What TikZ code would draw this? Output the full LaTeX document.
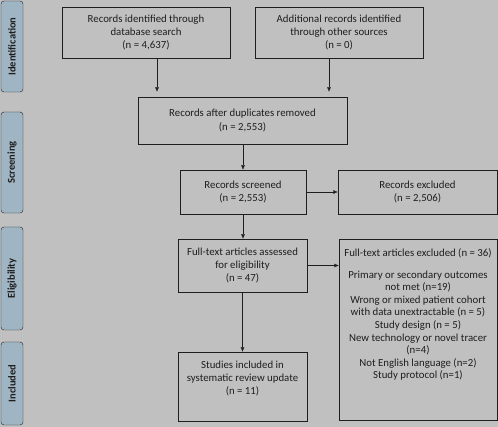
\documentclass[tikz,border=0pt]{standalone}
\usepackage{fontspec}
\setmainfont{Carlito}
\usetikzlibrary{arrows.meta}
\definecolor{bggrey}{RGB}{192,192,192}
\definecolor{tabblue}{RGB}{160,181,196}
\definecolor{inkgrey}{RGB}{30,30,30}
\begin{document}
\begin{tikzpicture}[x=1pt,y=-1pt,
    box/.style={draw=inkgrey, fill=bggrey, align=center, inner sep=1pt, text=inkgrey, font=\fontsize{10.8}{13.3}\selectfont},
    txt/.style={align=center, inner sep=0pt, text=inkgrey, font=\fontsize{10.8}{12.6}\selectfont},
    tab/.style={draw=inkgrey, fill=tabblue, rounded corners=3pt, rotate=90, minimum height=22pt, inner sep=1pt, text=inkgrey, font=\bfseries\fontsize{10.5}{12}\selectfont},
    arr/.style={-{Latex[length=4.5pt,width=4pt]}, inkgrey}]
    \fill[bggrey] (0,0) rectangle (498,427);
    \useasboundingbox (0,0) rectangle (498,427);
    \node [tab, minimum width=91pt] (idtab) at (12,46.5) {Identification};
    \node [tab, minimum width=101pt] (scrtab) at (12,162.5) {Screening};
    \node [tab, minimum width=103pt] (eligtab) at (12,278.5) {Eligibility};
    \node [tab, minimum width=83pt] (incltab) at (12,383.5) {Included};
    \node [box, minimum width=168pt, minimum height=51pt] (db) at (146,32.5) {Records identified through\\database search\\(n = 4,637)};
    \node [box, minimum width=168pt, minimum height=51pt] (other) at (339,32.5) {Additional records identified\\through other sources\\(n = 0)};
    \node [box, minimum width=209pt, minimum height=47pt] (dup) at (242.5,120.5) {Records after duplicates removed\\(n = 2,553)};
    \node [box, minimum width=126pt, minimum height=44pt] (scr) at (243,192) {Records screened\\(n = 2,553)};
    \node [box, minimum width=159pt, minimum height=44pt] (excl) at (417.5,192) {Records excluded\\(n = 2,506)};
    \node [box, minimum width=129pt, minimum height=53pt] (full) at (242.5,265.5) {Full-text articles assessed\\for eligibility\\(n = 47)};
    \node [box, minimum width=129pt, minimum height=69pt] (incl) at (242.5,386.5) {};
    \node [txt, font=\fontsize{10.8}{13.3}\selectfont] (incltext) at (242.5,378.5) {Studies included in\\systematic review update\\(n = 11)};
    \node [box, minimum width=158pt, minimum height=181pt] (ftexcl) at (418,329.5) {};
    \node [txt, anchor=north] (ftexcltext) at (418,248.5) {Full-text articles excluded (n = 36)\\[9pt]Primary or secondary outcomes\\not met (n=19)\\Wrong or mixed patient cohort\\with data unextractable (n = 5)\\Study design (n = 5)\\New technology or novel tracer\\(n=4)\\Not English language (n=2)\\Study protocol (n=1)};
    \draw [arr, shorten >=5pt] ([xshift=11pt]db.south) -- ([xshift=11pt]db.south |- dup.north);
    \draw [arr, shorten >=5pt] ([xshift=-10pt]other.south) -- ([xshift=-10pt]other.south |- dup.north);
    \draw [arr] (dup.south -| scr.north) -- (scr.north);
    \draw [arr] (scr.east) -- (excl.west);
    \draw [arr] (scr.south) -- (scr.south |- full.north);
    \draw [arr] (full.east) -- (full.east -| ftexcl.west);
    \draw [arr] (full.south) -- (incl.north);
  \end{tikzpicture}
\end{document}
